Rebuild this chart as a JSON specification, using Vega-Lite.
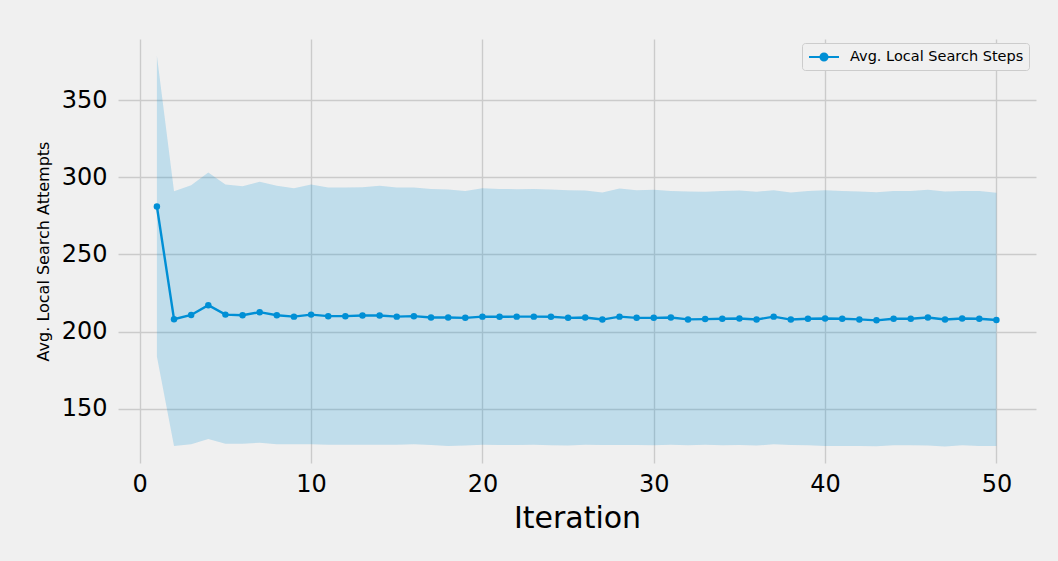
{
  "$schema": "https://vega.github.io/schema/vega-lite/v6.json",
  "width": 918,
  "height": 424,
  "autosize": {"type": "none"},
  "padding": {"left": 118, "top": 39, "right": 22, "bottom": 98},
  "background": "#f0f0f0",
  "config": {
    "view": {"stroke": null, "fill": "#f0f0f0"},
    "font": "DejaVu Sans",
    "axis": {
      "domain": false,
      "ticks": false,
      "gridColor": "#cbcbcb",
      "gridWidth": 1.4,
      "labelFont": "DejaVu Sans",
      "labelFontSize": 24,
      "labelColor": "#000000",
      "titleFont": "DejaVu Sans",
      "titleColor": "#000000",
      "titleFontWeight": "normal"
    }
  },
  "data": {
    "values": [
      {"iter": 1, "mean": 281.1, "lo": 183.8, "hi": 378.8},
      {"iter": 2, "mean": 208.0, "lo": 125.9, "hi": 291.0},
      {"iter": 3, "mean": 210.8, "lo": 127.0, "hi": 294.9},
      {"iter": 4, "mean": 217.1, "lo": 130.4, "hi": 303.1},
      {"iter": 5, "mean": 211.0, "lo": 127.2, "hi": 295.3},
      {"iter": 6, "mean": 210.6, "lo": 127.2, "hi": 294.3},
      {"iter": 7, "mean": 212.6, "lo": 128.0, "hi": 297.1},
      {"iter": 8, "mean": 210.6, "lo": 127.0, "hi": 294.5},
      {"iter": 9, "mean": 209.7, "lo": 127.0, "hi": 293.0},
      {"iter": 10, "mean": 211.0, "lo": 127.0, "hi": 295.3},
      {"iter": 11, "mean": 210.0, "lo": 126.7, "hi": 293.4},
      {"iter": 12, "mean": 210.0, "lo": 126.7, "hi": 293.4},
      {"iter": 13, "mean": 210.4, "lo": 126.7, "hi": 293.6},
      {"iter": 14, "mean": 210.4, "lo": 126.7, "hi": 294.5},
      {"iter": 15, "mean": 209.7, "lo": 126.7, "hi": 293.4},
      {"iter": 16, "mean": 210.0, "lo": 127.0, "hi": 293.4},
      {"iter": 17, "mean": 209.1, "lo": 126.5, "hi": 292.5},
      {"iter": 18, "mean": 209.1, "lo": 125.9, "hi": 292.2},
      {"iter": 19, "mean": 208.9, "lo": 126.1, "hi": 291.2},
      {"iter": 20, "mean": 209.7, "lo": 126.7, "hi": 293.0},
      {"iter": 21, "mean": 209.6, "lo": 126.5, "hi": 292.5},
      {"iter": 22, "mean": 209.7, "lo": 126.5, "hi": 292.3},
      {"iter": 23, "mean": 209.7, "lo": 126.7, "hi": 292.5},
      {"iter": 24, "mean": 209.6, "lo": 126.3, "hi": 292.1},
      {"iter": 25, "mean": 208.9, "lo": 126.1, "hi": 291.7},
      {"iter": 26, "mean": 209.1, "lo": 126.7, "hi": 291.5},
      {"iter": 27, "mean": 207.8, "lo": 126.5, "hi": 290.2},
      {"iter": 28, "mean": 209.7, "lo": 126.5, "hi": 292.7},
      {"iter": 29, "mean": 208.9, "lo": 126.5, "hi": 291.7},
      {"iter": 30, "mean": 208.9, "lo": 126.3, "hi": 291.9},
      {"iter": 31, "mean": 209.1, "lo": 126.7, "hi": 291.2},
      {"iter": 32, "mean": 207.9, "lo": 126.3, "hi": 290.8},
      {"iter": 33, "mean": 208.1, "lo": 126.7, "hi": 290.6},
      {"iter": 34, "mean": 208.3, "lo": 126.3, "hi": 291.2},
      {"iter": 35, "mean": 208.5, "lo": 126.5, "hi": 291.5},
      {"iter": 36, "mean": 207.8, "lo": 126.1, "hi": 290.6},
      {"iter": 37, "mean": 209.7, "lo": 127.0, "hi": 291.7},
      {"iter": 38, "mean": 207.8, "lo": 126.5, "hi": 290.2},
      {"iter": 39, "mean": 208.3, "lo": 126.3, "hi": 291.2},
      {"iter": 40, "mean": 208.5, "lo": 125.9, "hi": 291.7},
      {"iter": 41, "mean": 208.3, "lo": 125.9, "hi": 291.2},
      {"iter": 42, "mean": 207.9, "lo": 125.9, "hi": 290.8},
      {"iter": 43, "mean": 207.3, "lo": 125.7, "hi": 290.4},
      {"iter": 44, "mean": 208.3, "lo": 126.3, "hi": 291.2},
      {"iter": 45, "mean": 208.3, "lo": 126.3, "hi": 291.2},
      {"iter": 46, "mean": 209.1, "lo": 126.1, "hi": 291.9},
      {"iter": 47, "mean": 207.8, "lo": 125.5, "hi": 290.8},
      {"iter": 48, "mean": 208.5, "lo": 126.3, "hi": 291.2},
      {"iter": 49, "mean": 208.3, "lo": 125.9, "hi": 291.2},
      {"iter": 50, "mean": 207.5, "lo": 125.9, "hi": 290.0}
    ]
  },
  "encoding": {
    "x": {
      "field": "iter",
      "type": "quantitative",
      "scale": {"domain": [-1.27, 52.31], "nice": false, "zero": false},
      "axis": {
        "values": [0, 10, 20, 30, 40, 50],
        "title": "Iteration",
        "titleFontSize": 30,
        "labelPadding": 9,
        "titlePadding": 7
      }
    }
  },
  "layer": [
    {
      "mark": {"type": "area", "color": "#008fd5", "opacity": 0.2},
      "encoding": {
        "y": {
          "field": "lo",
          "type": "quantitative",
          "scale": {"domain": [114.8, 389.7], "nice": false, "zero": false},
          "axis": {
            "values": [150, 200, 250, 300, 350],
            "title": "Avg. Local Search Attempts",
            "titleFontSize": 16,
            "labelPadding": 11,
            "titlePadding": 10
          }
        },
        "y2": {"field": "hi"}
      }
    },
    {
      "mark": {"type": "line", "strokeWidth": 2.4, "point": {"filled": true, "size": 42}},
      "encoding": {
        "y": {"field": "mean", "type": "quantitative"},
        "color": {
          "datum": "Avg. Local Search Steps",
          "type": "nominal",
          "scale": {"range": ["#008fd5"]},
          "legend": {
            "title": null,
            "orient": "none",
            "legendX": 684,
            "legendY": 4,
            "padding": 5,
            "cornerRadius": 3,
            "strokeColor": "#cccccc",
            "fillColor": "#f0f0f0",
            "labelFontSize": 14.5,
            "labelFont": "DejaVu Sans",
            "labelColor": "#000000",
            "labelLimit": 400,
            "labelOffset": 17,
            "symbolOffset": 8,
            "symbolType": "M-2,0H2M-0.46,0A0.46,0.46 0 1,0 0.46,0A0.46,0.46 0 1,0 -0.46,0Z",
            "symbolSize": 225,
            "symbolStrokeWidth": 2.2,
            "symbolFillColor": "#008fd5",
            "symbolStrokeColor": "#008fd5"
          }
        }
      }
    }
  ]
}
